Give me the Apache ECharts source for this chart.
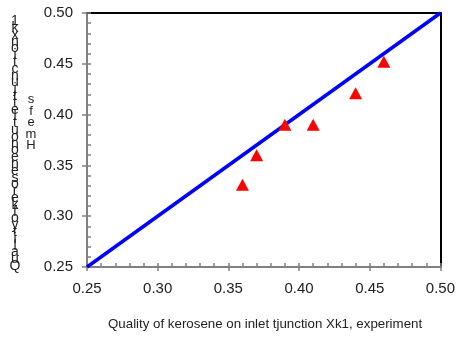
<!DOCTYPE html>
<html><head><meta charset="utf-8">
<script src="https://cdn.jsdelivr.net/npm/echarts@6/dist/echarts.min.js"></script>
<style>html,body{margin:0;padding:0;background:#fff}#c{width:458px;height:337px}</style>
</head><body><div id="c"></div>
<script>
var expX = [0.36, 0.37, 0.39, 0.41, 0.44, 0.46];
var calcY = [0.331, 0.360, 0.390, 0.390, 0.421, 0.452];
var lineX = [0.25, 0.50];
var lineY = [0.25, 0.50];
var xTicks = ['0.25','0.30','0.35','0.40','0.45','0.50'];
var yTicks = ['0.25','0.30','0.35','0.40','0.45','0.50'];
var xTitle = 'Quality of kerosene on inlet tjunction Xk1, experiment';
var yTitleMain = 'Qualityofkeroseneonoutlettjunctionxk1';
var yTitleSub = 'Hmefs';

var FONT = '"Liberation Sans", Arial, sans-serif';
function stack(s){ return s.split('').reverse().join('\n'); }

var chart = echarts.init(document.getElementById('c'), null, {renderer:'canvas'});
var grid = {left:87, right:15, top:13, bottom:70};
function baseX(extra){ return Object.assign({type:'value', min:0.25, max:0.5, interval:0.05, splitLine:{show:false}, axisLabel:{show:false}, axisTick:{show:false}, axisLine:{show:false}}, extra); }
function baseY(extra){ return Object.assign({type:'value', min:0.25, max:0.5, interval:0.05, splitLine:{show:false}, axisLabel:{show:false}, axisTick:{show:false}, axisLine:{show:false}}, extra); }

chart.setOption({
  animation:false,
  grid: grid,
  xAxis: [
    baseX({position:'top', axisLine:{show:true, onZero:false, lineStyle:{color:'#000', width:2}}}),
    baseX({position:'bottom', interval:0.01, axisLine:{show:true, onZero:false, lineStyle:{color:'#808080', width:2}},
      axisTick:{show:true, inside:true, length:4, lineStyle:{color:'#808080', width:1.5}}}),
    baseX({position:'bottom', axisLine:{show:false, onZero:false},
      axisTick:{show:true, inside:false, length:4, lineStyle:{color:'#808080', width:1.5}},
      axisLabel:{show:true, margin:14, color:'#222', fontSize:15, fontFamily:FONT,
        formatter:function(v){ var i=Math.round((v-0.25)/0.05); return xTicks[i]; }}})
  ],
  yAxis: [
    baseY({position:'right', axisLine:{show:true, onZero:false, lineStyle:{color:'#000', width:2}}}),
    baseY({position:'left', interval:0.01, axisLine:{show:true, onZero:false, lineStyle:{color:'#808080', width:2}},
      axisTick:{show:true, inside:true, length:4, lineStyle:{color:'#808080', width:1.5}}}),
    baseY({position:'left', axisLine:{show:false, onZero:false},
      axisTick:{show:true, inside:false, length:5, lineStyle:{color:'#808080', width:1.5}},
      axisLabel:{show:true, margin:14, color:'#222', fontSize:15, fontFamily:FONT,
        formatter:function(v){ var i=Math.round((v-0.25)/0.05); return yTicks[i]; }}})
  ],
  series: [
    {type:'line', xAxisIndex:2, yAxisIndex:2, data: lineX.map(function(x,i){return [x, lineY[i]];}),
     showSymbol:false, lineStyle:{color:'#0000ff', width:3.5}, z:2},
    {type:'scatter', xAxisIndex:2, yAxisIndex:2, data: expX.map(function(x,i){return [x, calcY[i]];}),
     symbol:'triangle', symbolSize:[13,12], itemStyle:{color:'#ff0000', opacity:1}, z:3}
  ],
  graphic: [
    {type:'text', left:108, top:318, style:{text:xTitle, font:'13.3px '+FONT, fill:'#222'}},
    {type:'text', x:15, y:18, style:{text:stack(yTitleMain), font:'14px '+FONT, fill:'#222', lineHeight:6.8, align:'center'}},
    {type:'text', x:31, y:94, style:{text:stack(yTitleSub), font:'13px '+FONT, fill:'#222', lineHeight:11.5, align:'center'}}
  ]
});
</script></body></html>
